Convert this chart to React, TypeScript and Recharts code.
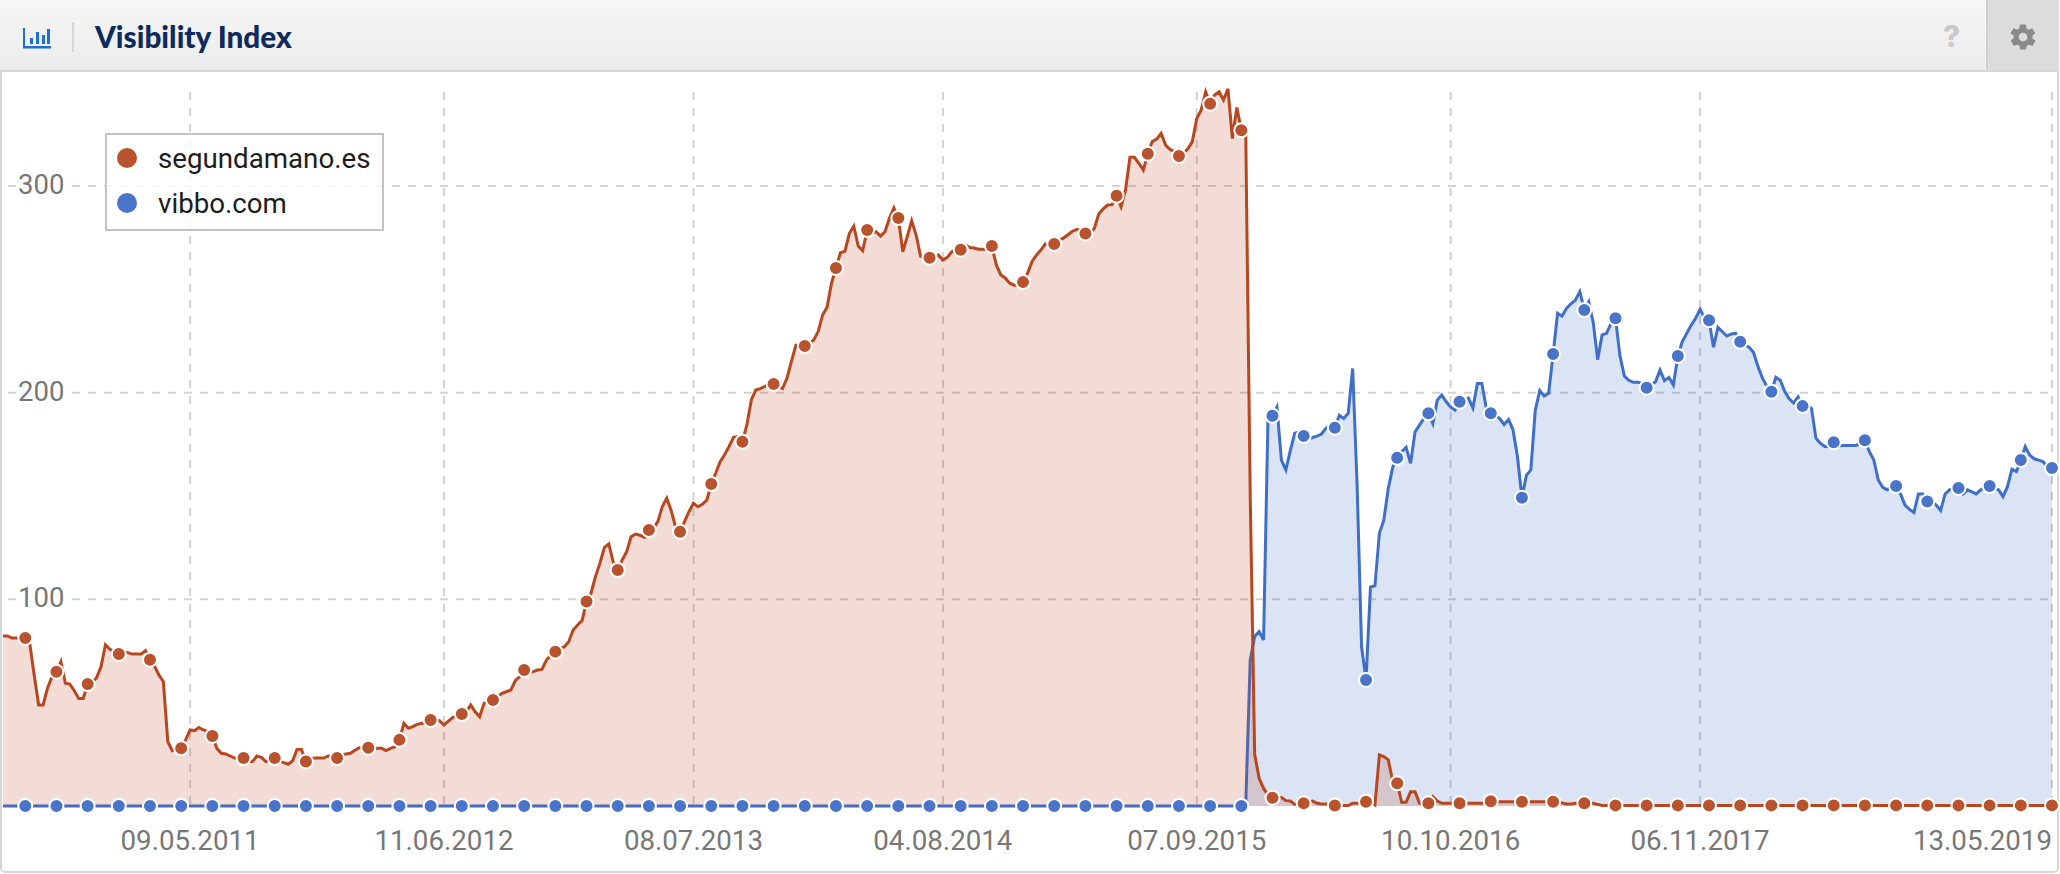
import { Area, CartesianGrid, ComposedChart, Legend, XAxis, YAxis } from 'recharts';

// weekly readings, first week is 42 weeks before 09.05.2011
// rows after the first start on a week that carries a marker
const segundamanoValues = [
  82.3, 82.3, 81.3, 81.3, 81.3,
  81.3, 78.7, 63.4, 48.9, 48.9, 57, 62.6,
  65, 69.8, 59.4, 59, 55.8, 52, 52,
  59, 60, 62, 67.4, 78, 75.8, 74.7,
  73.5, 74.7, 74.2, 73.5, 73.5, 73.5, 75.2,
  70.8, 67.7, 63.4, 60.2, 31.1, 26.8, 28,
  27.9, 32, 36.8, 36.5, 38, 36.8, 36,
  33.9, 27.9, 25.5, 25.2, 24.2, 23.2, 22.9,
  23.2, 21.5, 21.5, 24.2, 23.5, 21.5, 22.3,
  23.2, 21.8, 21, 20.2, 21.8, 27.4, 27.4,
  21.5, 23, 23.2, 23.2, 23.2, 24.2, 24,
  23.2, 24.7, 25.2, 25.5, 27, 28.2, 28.2,
  28.2, 27.9, 27.9, 27.9, 26.8, 27.9, 28.7,
  32, 40, 37.6, 38.4, 39.5, 40, 40,
  41.6, 41.6, 41.3, 39.2, 41.1, 42.9, 43.5,
  44.5, 45.6, 48.9, 45.6, 43.2, 49.7, 50.5,
  51.3, 52.9, 54.5, 55.3, 56.1, 60.6, 62.6,
  65.8, 64.5, 65, 65.8, 66.1, 70.6, 73,
  74.7, 76.3, 77, 79.5, 85.2, 87.6, 89.7,
  98.9, 102.9, 111, 117.4, 125, 126.8, 118,
  114.2, 119, 123, 130.3, 131.6, 131, 130,
  133.5, 134.4, 137.6, 144.8, 148.9, 143, 135,
  132.7, 137.6, 142.4, 146.5, 144.8, 146, 148,
  155.8, 161, 166.6, 170, 174, 178.4, 178.7,
  176.3, 184.4, 196.5, 201.3, 202, 203, 203.7,
  204.2, 203, 202, 207, 215, 223, 223,
  222.6, 223.9, 225.5, 229.5, 237.6, 241.3, 253,
  260.3, 267.7, 268.4, 277, 280.6, 271, 268.7,
  278.7, 277, 277.9, 275.8, 277.9, 284.4, 289.5,
  284.5, 268.2, 275.5, 283.2, 276.3, 266, 265.5,
  265.3, 265, 266.6, 264.2, 265.5, 268.2, 269.8,
  269.2, 271.5, 270.3, 270, 269.4, 269.4, 269.4,
  271, 261.8, 257, 255.5, 253, 252, 252,
  253.5, 257.7, 263.4, 266.6, 269, 272, 271.5,
  272, 273.9, 274.7, 276.3, 278, 279, 278.7,
  277, 277, 279.5, 286.5, 289, 290.8, 291,
  295.3, 290, 298, 313.9, 313.9, 311, 307.7,
  315.6, 321.5, 322.7, 325.5, 319.8, 317.7, 316.6,
  314.5, 315.8, 318, 321.5, 332.7, 336.8, 345.6,
  339.8, 344, 345.6, 341.6, 347, 323, 338,
  327, 324.7, 150, 25, 13.4, 8.5, 5.3,
  4, 4.5, 4.2, 2.6, 2.4, 0.8, 0.9,
  1.3, 2, 2.4, 1.3, 1, 1, 1,
  0.2, 0.2, 0.2, 0.2, 1.3, 1.3, 1.8,
  2.1, 1.8, 0.5, 24.7, 23.9, 22.3, 11.8,
  11, 1.8, 1.8, 6.9, 6.9, 1.3, 0.8,
  1.3, 4.5, 2.4, 1.3, 1.3, 1.3, 1.3,
  1.3, 1.3, 1.3, 1.3, 1.3, 1.3, 1.5,
  2.3, 2.1, 2, 2, 2, 2, 2.1,
  2.1, 2.1, 2.1, 2.1, 2.1, 2.1, 2.1,
  2.1, 2, 1.5, 1, 1, 1.3, 1.3,
  1.3, 1.3, 1.3, 0.8, 0.3, 0.3, 0.3,
  0.3, 0.3, 0.3, 0.3, 0.3, 0.3, 0.3,
  0.3, 0.3, 0.3, 0.3, 0.3, 0.3, 0.3,
  0.3, 0.3, 0.3, 0.3, 0.3, 0.3, 0.3,
  0.3, 0.3, 0.3, 0.3, 0.3, 0.3, 0.3,
  0.3, 0.3, 0.3, 0.3, 0.3, 0.3, 0.3,
  0.3, 0.3, 0.3, 0.3, 0.3, 0.3, 0.3,
  0.3, 0.3, 0.3, 0.3, 0.3, 0.3, 0.3,
  0.3, 0.3, 0.3, 0.3, 0.3, 0.3, 0.3,
  0.3, 0.3, 0.3, 0.3, 0.3, 0.3, 0.3,
  0.3, 0.3, 0.3, 0.3, 0.3, 0.3, 0.3,
  0.3, 0.3, 0.3, 0.3, 0.3, 0.3, 0.3,
  0.3, 0.3, 0.3, 0.3, 0.3, 0.3, 0.3,
  0.3, 0.3, 0.3, 0.3, 0.3, 0.3, 0.3,
  0.3, 0.3, 0.3, 0.3, 0.3, 0.3, 0.3,
  0.3,
];

const vibboValues = [
  0, 0, 0, 0, 0,
  0, 0, 0, 0, 0, 0, 0, 0, 0, 0, 0, 0, 0, 0, 0, 0, 0, 0, 0, 0, 0,
  0, 0, 0, 0, 0, 0, 0, 0, 0, 0, 0, 0, 0, 0, 0, 0, 0, 0, 0, 0, 0,
  0, 0, 0, 0, 0, 0, 0, 0, 0, 0, 0, 0, 0, 0, 0, 0, 0, 0, 0, 0, 0,
  0, 0, 0, 0, 0, 0, 0, 0, 0, 0, 0, 0, 0, 0, 0, 0, 0, 0, 0, 0, 0,
  0, 0, 0, 0, 0, 0, 0, 0, 0, 0, 0, 0, 0, 0, 0, 0, 0, 0, 0, 0, 0,
  0, 0, 0, 0, 0, 0, 0, 0, 0, 0, 0, 0, 0, 0, 0, 0, 0, 0, 0, 0, 0,
  0, 0, 0, 0, 0, 0, 0, 0, 0, 0, 0, 0, 0, 0, 0, 0, 0, 0, 0, 0, 0,
  0, 0, 0, 0, 0, 0, 0, 0, 0, 0, 0, 0, 0, 0, 0, 0, 0, 0, 0, 0, 0,
  0, 0, 0, 0, 0, 0, 0, 0, 0, 0, 0, 0, 0, 0, 0, 0, 0, 0, 0, 0, 0,
  0, 0, 0, 0, 0, 0, 0, 0, 0, 0, 0, 0, 0, 0, 0, 0, 0, 0, 0, 0, 0,
  0, 0, 0, 0, 0, 0, 0, 0, 0, 0, 0, 0, 0, 0, 0, 0, 0, 0, 0, 0, 0,
  0, 0, 0, 0, 0, 0, 0, 0, 0, 0, 0, 0, 0, 0, 0, 0, 0, 0, 0, 0, 0,
  0, 0, 0, 0, 0, 0, 0, 0, 0, 0, 0, 0, 0, 0, 0, 0, 0, 0, 0, 0, 0,
  0, 1, 70.6, 82, 84.4, 80.3, 189,
  188.8, 193, 167.4, 162.6, 172, 180.4, 181,
  179, 177.4, 178.3, 179, 180, 182.7, 184.3,
  183, 189, 187.5, 190, 211.7, 155, 77,
  61, 106, 106.5, 132, 138.4, 153.7, 164,
  168.5, 171.4, 173.5, 165.8, 181, 184.3, 187.5,
  190, 185, 196.5, 198.9, 195.6, 193, 191.6,
  195.6, 196.5, 197.3, 192.6, 204.5, 204.5, 192.6,
  190, 189, 187.5, 184.6, 187, 182, 169,
  149.2, 160, 162.6, 191.6, 201, 198.4, 199.7,
  218.7, 238.4, 237, 240.8, 243, 244.8, 248.9,
  240, 244, 234, 216, 228, 228.7, 233.5,
  236, 218, 208, 206, 205, 205, 204.5,
  202.4, 203.7, 205.3, 211, 205.8, 207.4, 203.7,
  217.7, 224.7, 228.7, 232.7, 236, 240.3, 236,
  235, 222, 231.6, 229.5, 227.4, 228.4, 228.7,
  224.7, 223, 222, 219.4, 212.6, 207, 203,
  200.5, 207.4, 206, 200.5, 197, 195, 198,
  193.5, 194, 192.4, 178, 175.5, 174, 173.9,
  176, 174, 174.5, 174.5, 174.5, 174.5, 175.5,
  177, 171.5, 167.4, 157.7, 154.2, 153, 154.5,
  154.8, 151, 145.6, 143.5, 142, 151, 151,
  147.3, 147.3, 145.6, 143, 151, 153, 154,
  153.9, 151, 153, 152, 151, 153, 154,
  154.8, 153.7, 153, 149.7, 154.5, 163, 161.8,
  167.4, 173.9, 169.8, 168, 167.4, 166.6, 164,
  163.5,
];

const firstWeek = -42;
const tickWeeks = [0, 57, 113, 169, 226, 283, 339, 418];
const tickLabels = ['09.05.2011', '11.06.2012', '08.07.2013', '04.08.2014', '07.09.2015', '10.10.2016', '06.11.2017', '13.05.2019'];
const valueTicks = [100, 200, 300];

const chartData = segundamanoValues.map((value, i) => ({
  week: firstWeek + i,
  'segundamano.es': value,
  'vibbo.com': vibboValues[i],
}));

const RED = '#b8471f';
const BLUE = '#3f6fc9';
const MARKERS: Record<string, string> = { 'segundamano.es': '#b9532e', 'vibbo.com': '#4a74c9' };
const FONT = 'Roboto, sans-serif';

function makeMarker(color: string) {
  return (props: any) => {
    const { cx, cy, payload, index } = props;
    if (((payload.week % 7) + 7) % 7 !== 5) return <g key={index} />;
    return <circle key={index} cx={cx} cy={cy} r={7} fill={color} stroke="#fff" strokeWidth={2} />;
  };
}

function ValueTick({ y, payload }: any) {
  return (
    <g>
      <rect x={16} y={y - 14} width={56} height={28} fill="#fff" />
      <text x={18} y={y + 8} fontSize={27.5} fontFamily={FONT} fill="#777">{payload.value}</text>
    </g>
  );
}

function WeekTick({ x, payload }: any) {
  const label = tickLabels[tickWeeks.indexOf(payload.value)];
  const last = payload.value === tickWeeks[tickWeeks.length - 1];
  return (
    <text x={x} y={850} fontSize={27.7} fontFamily={FONT} fill="#777" textAnchor={last ? 'end' : 'middle'}>
      {label}
    </text>
  );
}

function gridLine(dash: any, fromY?: number, fromX?: number) {
  const { x1, x2, y1, y2, key } = dash;
  return (
    <line
      key={key}
      x1={fromX ?? x1}
      x2={x2}
      y1={fromY ?? y1}
      y2={y2}
      stroke="#d2d2d2"
      strokeWidth={2}
      strokeDasharray="8 8"
    />
  );
}

function LegendBox({ payload }: any) {
  return (
    <div style={{ width: 279, height: 98, boxSizing: 'border-box', border: '2px solid #c2c2c2', background: 'rgba(255,255,255,0.82)', position: 'relative' }}>
      {['segundamano.es', 'vibbo.com'].map((name, i) => {
        const item = (payload || []).find((p: any) => p.value === name);
        return (
          <div key={name} style={{ position: 'absolute', left: 0, top: 1 + i * 45, height: 44, display: 'flex', alignItems: 'center' }}>
            <span style={{ width: 20, height: 20, borderRadius: 10, marginLeft: 10, background: item ? MARKERS[name] : '#999' }} />
            <span style={{ marginLeft: 21, fontFamily: FONT, fontSize: 27.7, color: '#1c1c1c' }}>{name}</span>
          </div>
        );
      })}
    </div>
  );
}

function PanelHeader() {
  return (
    <div style={{ position: 'absolute', left: 0, top: 0, width: 2059, height: 72, boxSizing: 'border-box', borderBottom: '2px solid #d6d6d6', background: 'linear-gradient(#f6f6f6, #ececec)' }}>
      <svg width={40} height={30} style={{ position: 'absolute', left: 20, top: 24 }}>
        <g fill="#1d6fd6">
          <rect x={3} y={4} width={2} height={20} />
          <rect x={3} y={22} width={28} height={2.5} />
          <rect x={10} y={14} width={3} height={6} />
          <rect x={16} y={8} width={3} height={12} />
          <rect x={22} y={11} width={3} height={9} />
          <rect x={27} y={5} width={3} height={15} />
        </g>
      </svg>
      <div style={{ position: 'absolute', left: 72, top: 22, width: 2, height: 30, background: '#d6d6d6' }} />
      <div style={{ position: 'absolute', left: 95, top: 19, fontFamily: 'Lato, sans-serif', fontWeight: 900, fontSize: 29.7, color: '#0c2a5e', whiteSpace: 'nowrap' }}>
        Visibility Index
      </div>
      <div style={{ position: 'absolute', left: 1943, top: 18, fontFamily: 'Inter, sans-serif', fontWeight: 800, fontSize: 30, color: '#c9c9c9' }}>?</div>
      <div style={{ position: 'absolute', left: 1986, top: 0, width: 73, height: 70, boxSizing: 'border-box', borderLeft: '2px solid #d0d0d0', background: '#dcdcdc' }}>
        <svg width={30} height={30} viewBox="0 0 24 24" style={{ position: 'absolute', left: 20, top: 22 }}>
          <path
            fill="#8a8a8a"
            d="M19.4 13c.1-.3.1-.7.1-1s0-.7-.1-1l2.1-1.6c.2-.2.2-.4.1-.6l-2-3.5c-.1-.2-.4-.3-.6-.2l-2.5 1c-.5-.4-1.1-.7-1.7-1l-.4-2.6c0-.3-.2-.5-.5-.5h-4c-.3 0-.5.2-.5.5l-.4 2.6c-.6.3-1.2.6-1.7 1l-2.5-1c-.2-.1-.5 0-.6.2l-2 3.5c-.1.2-.1.5.1.6L4.6 11c-.1.3-.1.7-.1 1s0 .7.1 1l-2.1 1.6c-.2.2-.2.4-.1.6l2 3.5c.1.2.4.3.6.2l2.5-1c.5.4 1.1.7 1.7 1l.4 2.6c0 .3.2.5.5.5h4c.3 0 .5-.2.5-.5l.4-2.6c.6-.3 1.2-.6 1.7-1l2.5 1c.2.1.5 0 .6-.2l2-3.5c.1-.2.1-.5-.1-.6L19.4 13zM12 15.5a3.5 3.5 0 1 1 0-7 3.5 3.5 0 0 1 0 7z"
          />
        </svg>
      </div>
    </div>
  );
}

export default function App() {
  return (
    <div style={{ position: 'absolute', left: 0, top: 0, width: 2060, height: 874, background: '#fff', overflow: 'hidden' }}>
      <div style={{ position: 'absolute', left: 0, top: 0, width: 2059, height: 873, boxSizing: 'border-box', border: '2px solid #d6d6d6', borderRadius: 5 }} />
      <PanelHeader />
      <div style={{ position: 'absolute', left: 0, top: 0 }}>
        <ComposedChart width={2060} height={874} data={chartData} margin={{ top: 82.7, right: 8, bottom: 0, left: 2 }}>
          <CartesianGrid
            syncWithTicks
            horizontal={(p: any) => gridLine(p, undefined, 8)}
            vertical={(p: any) => gridLine(p, 92)}
          />
          <XAxis
            dataKey="week"
            type="number"
            domain={[firstWeek, 418]}
            ticks={tickWeeks}
            interval={0}
            height={68}
            axisLine={false}
            tickLine={false}
            tick={<WeekTick />}
          />
          <YAxis
            type="number"
            domain={[0, 350]}
            ticks={valueTicks}
            interval={0}
            width={1}
            axisLine={false}
            tickLine={false}
            tick={<ValueTick />}
          />
          <Legend
            layout="vertical"
            align="center"
            verticalAlign="middle"
            wrapperStyle={{ left: 105, top: 133, width: 279, height: 98 }}
            content={<LegendBox />}
          />
          <Area
            type="linear"
            dataKey="vibbo.com"
            stroke={BLUE}
            strokeWidth={3}
            fill={BLUE}
            fillOpacity={0.19}
            dot={makeMarker(MARKERS['vibbo.com'])}
            activeDot={false}
            isAnimationActive={false}
          />
          <Area
            type="linear"
            dataKey="segundamano.es"
            stroke={RED}
            strokeWidth={3}
            fill={RED}
            fillOpacity={0.19}
            dot={makeMarker(MARKERS['segundamano.es'])}
            activeDot={false}
            isAnimationActive={false}
          />
        </ComposedChart>
      </div>
    </div>
  );
}
